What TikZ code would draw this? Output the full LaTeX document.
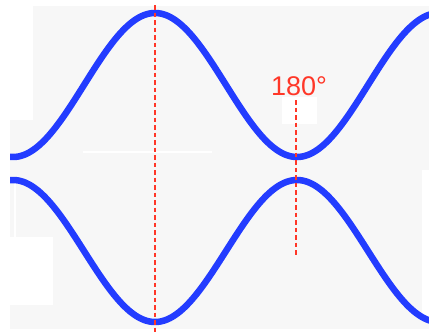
\documentclass[tikz,border=0pt]{standalone}
\usepackage{fontspec}
\setmainfont{Liberation Sans}
\definecolor{wave}{RGB}{35,60,255}
\definecolor{mark}{RGB}{255,55,40}
\definecolor{bg}{RGB}{247,247,247}
\begin{document}
\begin{tikzpicture}[x=1pt,y=-1pt,
  wavestyle/.style={draw=wave,line width=6.5pt,line join=round},
  guide/.style={draw=mark,line width=1.6pt,dash pattern=on 4.5pt off 3pt},
  patch/.style={fill=white,draw=none}]
\useasboundingbox (0,0) rectangle (429,333);
\fill[white] (0,0) rectangle (429,333);
\fill[bg] (10,6) rectangle (429,329);
% white patches of the background
\fill[patch] (10,6) rectangle (33,120);
\fill[patch] (14,180) rectangle (16,237);
\fill[patch] (10,237) rectangle (53,305);
\fill[patch] (422,170) rectangle (429,320);
\fill[patch] (83,150.5) rectangle (212,152.5);
\fill[patch] (282,97) rectangle (317,124);
% waves
\begin{scope}
\clip (10,0) rectangle (429,333);
\draw[wavestyle] plot[domain=8:431,samples=200,smooth] (\x,{85-72*cos(1.267606*(\x-155))});
\draw[wavestyle] plot[domain=8:431,samples=200,smooth] (\x,{251+71*cos(1.267606*(\x-155))});
\end{scope}
% guides
\coordinate (g1top) at (155,5);
\coordinate (g1bot) at (155,333);
\coordinate (g2top) at (296,100);
\coordinate (g2bot) at (296,257);
\draw[guide] (g1top) -- (g1bot);
\draw[guide] (g2top) -- (g2bot);
\node[text=mark,anchor=base,inner sep=0pt,font=\fontsize{27}{27}\selectfont] (lbl) at (299,95) {180°};
\end{tikzpicture}
\end{document}
